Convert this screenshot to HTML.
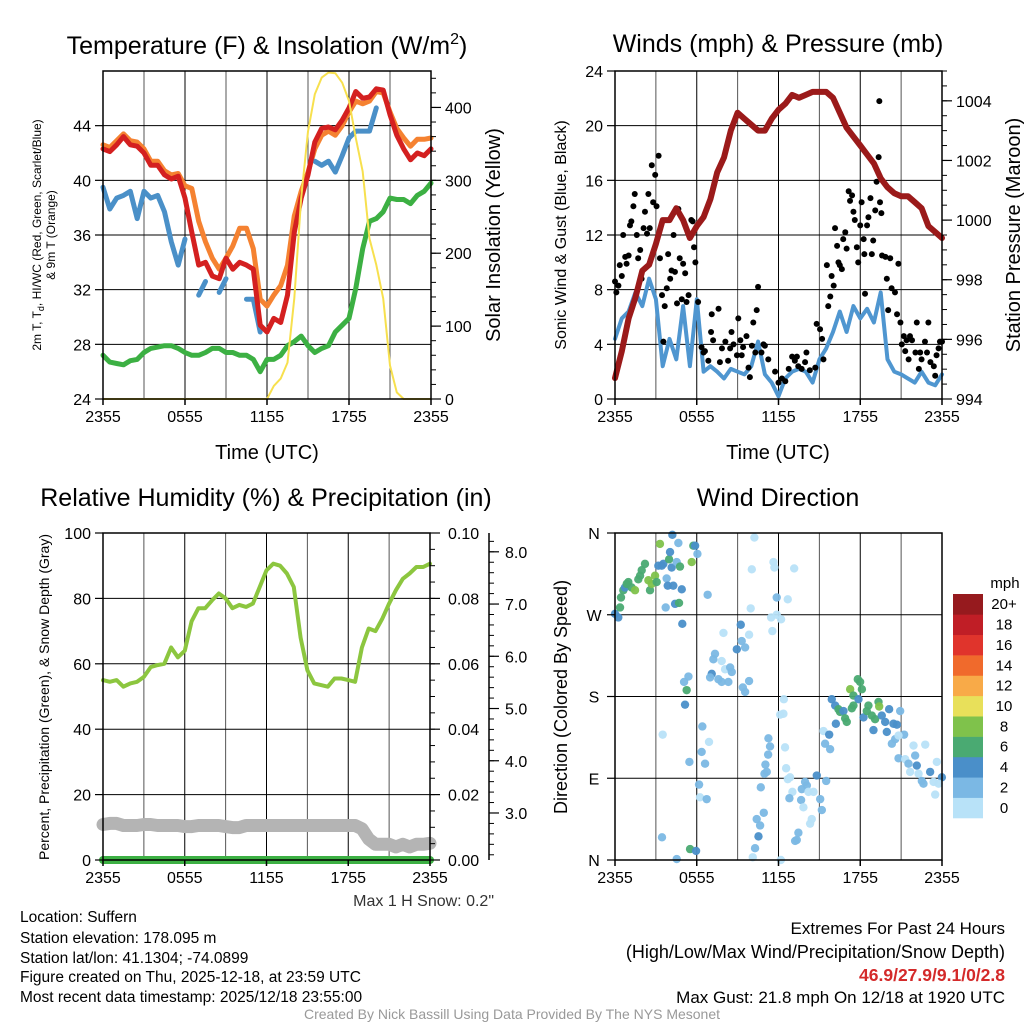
<!DOCTYPE html>
<html><head><meta charset="utf-8"><style>
html,body{margin:0;padding:0;background:#fff;}
svg{display:block;font-family:"Liberation Sans",Arial,sans-serif;}
</style></head><body>
<svg id="chart" width="1024" height="1024" viewBox="0 0 1024 1024" xmlns="http://www.w3.org/2000/svg">
<rect x="0" y="0" width="1024" height="1024" fill="#fff"/>
<g id="layer"></g>
<text x="267" y="54" font-size="25" text-anchor="middle">Temperature (F) &amp; Insolation (W/m<tspan dy="-10" font-size="16">2</tspan><tspan dy="10">)</tspan></text>
<text x="778" y="52" font-size="25" text-anchor="middle">Winds (mph) &amp; Pressure (mb)</text>
<text x="266" y="506" font-size="25" text-anchor="middle">Relative Humidity (%) &amp; Precipitation (in)</text>
<text x="778" y="506" font-size="25" text-anchor="middle">Wind Direction</text>
<text x="267" y="459" font-size="20" text-anchor="middle">Time (UTC)</text>
<text x="778" y="459" font-size="20" text-anchor="middle">Time (UTC)</text>
<text transform="translate(41,235) rotate(-90)" font-size="12" text-anchor="middle">2m T, T<tspan dy="3" font-size="9">d</tspan><tspan dy="-3">, HI/WC (Red, Green, Scarlet/Blue)</tspan></text>
<text transform="translate(55,235) rotate(-90)" font-size="12" text-anchor="middle">&amp; 9m T (Orange)</text>
<text transform="translate(500,235) rotate(-90)" font-size="20" text-anchor="middle">Solar Insolation (Yellow)</text>
<text transform="translate(566,235) rotate(-90)" font-size="16" text-anchor="middle">Sonic Wind &amp; Gust (Blue, Black)</text>
<text transform="translate(1020,235) rotate(-90)" font-size="20" text-anchor="middle">Station Pressure (Maroon)</text>
<text transform="translate(49,697) rotate(-90)" font-size="14" text-anchor="middle">Percent, Precipitation (Green), &amp; Snow Depth (Gray)</text>
<text transform="translate(567,697) rotate(-90)" font-size="18" text-anchor="middle">Direction (Colored By Speed)</text>
<text x="494" y="906" font-size="16" fill="#333" text-anchor="end">Max 1 H Snow: 0.2"</text>
<g font-size="15.5">
<text x="20" y="922">Location: Suffern</text>
<text x="20" y="943">Station elevation: 178.095 m</text>
<text x="20" y="963">Station lat/lon: 41.1304; -74.0899</text>
<text x="20" y="982">Figure created on Thu, 2025-12-18, at 23:59 UTC</text>
<text x="20" y="1002">Most recent data timestamp: 2025/12/18 23:55:00</text>
</g>
<g text-anchor="end">
<text x="1005" y="934" font-size="17">Extremes For Past 24 Hours</text>
<text x="1005" y="958" font-size="18">(High/Low/Max Wind/Precipitation/Snow Depth)</text>
<text x="1005" y="981" font-size="17.5" fill="#d42a2a" font-weight="bold">46.9/27.9/9.1/0/2.8</text>
<text x="1005" y="1003" font-size="17">Max Gust: 21.8 mph On 12/18 at 1920 UTC</text>
</g>
<text x="512" y="1019" font-size="14" fill="#999" text-anchor="middle">Created By Nick Bassill Using Data Provided By The NYS Mesonet</text>
</svg>
<script>
// ---- data (half-hourly, hours since 2355) ----
const xTickLabels = ["2355","0555","1155","1755","2355"];
const tempTicks = [24,28,32,36,40,44];
const solarTicks = [0,100,200,300,400];
const windTicks = [0,4,8,12,16,20,24];
const presTicks = [994,996,998,1000,1002,1004];
const rhTicks = [0,20,40,60,80,100];
const precipTicks = ["0.00","0.02","0.04","0.06","0.08","0.10"];
const snowTicks = [3,4,5,6,7,8];
const dirTicks = ["N","E","S","W","N"];
const speedBins = ["0","2","4","6","8","10","12","14","16","18","20+"];

const temp2m = [42.3,42.1,42.6,43.2,42.6,42.5,42.0,41.1,41.1,40.4,40.1,40.3,38.7,36.2,33.8,34.0,33.0,32.8,34.3,33.5,34.0,33.8,33.5,29.4,28.9,29.9,29.6,31.6,36.2,38.7,40.4,42.8,43.8,43.9,43.7,44.4,45.3,46.5,46.0,46.1,46.7,46.6,44.8,43.3,42.3,41.5,42.0,41.8,42.3];
const temp9m = [42.6,42.4,42.9,43.4,42.9,42.8,42.3,41.4,41.4,40.7,40.4,40.5,39.6,39.4,37.0,35.5,34.3,33.5,34.3,35.2,36.5,36.5,35.0,31.3,30.8,31.6,32.3,33.8,37.4,39.2,40.6,42.3,43.3,43.6,43.3,44.0,45.0,45.8,45.6,45.8,46.5,46.4,45.0,43.8,43.1,42.5,43.0,43.0,43.1];
const heatIndex = [39.5,37.9,38.7,38.9,39.2,37.2,39.2,38.7,38.9,37.7,35.5,33.8,35.7,null,31.6,32.6,null,31.8,32.8,null,null,31.3,31.3,28.9,null,null,null,28.4,null,null,null,41.4,41.1,41.4,40.6,41.8,43.1,43.6,43.6,43.6,45.3,null,null,null,null,null,null,null,null];
const dewPoint = [27.2,26.7,26.6,26.5,26.8,26.9,27.4,27.7,27.8,27.9,27.9,27.7,27.4,27.2,27.2,27.4,27.7,27.7,27.4,27.4,27.2,27.2,26.9,26.0,26.9,26.9,27.2,27.9,28.2,28.6,27.9,27.4,27.7,27.9,28.9,29.4,29.9,32.1,35.0,37.0,37.2,37.7,38.7,38.6,38.6,38.3,38.9,39.2,39.8];
const solar = [0,0,0,0,0,0,0,0,0,0,0,0,0,0,0,0,0,0,0,0,0,0,0,0,0,18,28,50,138,276,367,418,441,448,447,434,409,358,312,220,184,138,46,9,0,0,0,0,0];

const pressure = [994.7,995.6,996.7,997.4,998.3,998.5,999.2,1000.0,1000.0,1000.4,1000.0,999.4,999.8,1000.1,1000.7,1001.6,1002.1,1003.0,1003.6,1003.4,1003.2,1003.0,1003.0,1003.4,1003.7,1003.9,1004.2,1004.1,1004.2,1004.3,1004.3,1004.3,1004.1,1003.6,1003.1,1002.8,1002.5,1002.2,1001.9,1001.4,1001.1,1000.9,1000.8,1000.8,1000.6,1000.4,999.8,999.6,999.4];
const windSpeed = [4.4,5.9,6.4,7.8,6.8,8.8,7.3,2.4,4.4,2.9,6.8,2.4,7.3,2.0,2.4,2.0,1.5,2.2,2.0,1.8,2.4,4.2,1.8,1.2,0.2,1.5,2.0,2.2,2.0,1.2,2.9,3.7,4.9,6.4,4.9,6.8,5.9,6.6,5.6,7.8,2.9,2.0,1.8,1.5,1.2,2.0,1.2,1.0,1.8];
const gustHour = [0.0,0.1,0.25,0.35,0.5,0.6,0.75,0.85,1.0,1.1,1.2,1.35,1.45,1.6,1.7,1.85,1.95,2.1,2.2,2.35,2.45,2.55,2.7,2.8,2.95,3.05,3.2,3.3,3.45,3.55,3.65,3.8,3.9,4.05,4.15,4.3,4.4,4.55,4.65,4.75,4.9,5.0,5.15,5.25,5.4,5.6,5.7,5.8,5.9,6.1,6.35,6.5,6.6,6.85,7.05,7.1,7.2,7.6,7.7,7.85,8.1,8.3,8.45,8.55,8.7,8.95,9.05,9.2,9.3,9.4,9.65,9.8,9.9,10.05,10.15,10.3,10.4,10.5,10.75,10.9,11.0,11.25,11.75,12.0,12.25,12.5,12.75,13.0,13.2,13.35,13.45,13.7,13.95,14.05,14.3,14.7,14.8,15.05,15.2,15.3,15.55,15.65,15.8,15.9,16.05,16.15,16.3,16.4,16.5,16.65,16.75,16.9,17.0,17.15,17.25,17.4,17.5,17.6,17.75,17.85,18.0,18.1,18.25,18.3,18.35,18.5,18.6,18.75,18.85,18.95,19.1,19.2,19.35,19.4,19.45,19.55,19.6,19.85,19.95,20.05,20.2,20.3,20.55,20.7,20.8,20.95,21.05,21.2,21.3,21.4,21.55,21.65,21.8,22.05,22.15,22.3,22.4,22.5,22.75,22.9,23.0,23.15,23.4,23.5,23.6,23.75,23.85,24.0];
const gustMph = [8.6,7.8,8.3,9.8,9.0,12.0,10.4,9.9,10.5,12.7,13.0,14.1,15.0,12.0,10.3,10.9,8.8,12.5,13.7,12.1,15.0,12.5,17.1,14.4,16.4,14.1,17.8,10.3,7.6,4.2,6.8,8.1,10.6,8.8,9.4,12.0,9.3,7.0,13.9,10.3,7.3,9.9,9.2,7.1,7.6,13.1,13.0,11.1,10.0,7.1,3.8,3.4,3.5,2.8,4.9,6.2,4.3,6.6,2.7,3.7,4.2,2.8,3.7,4.9,4.0,3.2,5.9,4.3,3.2,3.8,4.6,2.3,1.6,3.9,5.6,3.4,6.5,8.2,3.4,4.0,3.9,2.9,2.0,1.2,1.5,1.3,2.2,3.1,2.8,3.1,2.4,2.2,2.7,3.4,2.1,2.3,5.5,5.1,4.4,2.9,9.8,6.8,7.5,9.0,8.3,12.5,11.2,10.0,9.8,9.5,11.7,12.2,11.0,15.2,14.5,14.9,13.7,13.1,11.1,10.0,12.7,14.4,11.7,10.6,7.7,12.7,13.3,14.7,10.6,11.6,13.8,15.9,17.7,21.8,14.4,13.6,10.5,10.4,8.8,6.5,10.3,8.1,7.8,6.2,9.9,5.6,4.0,4.6,3.5,4.3,2.9,4.6,4.3,3.4,5.6,2.2,3.4,2.9,4.2,3.4,5.6,2.7,2.4,1.7,3.2,3.7,4.2,4.2];

const rh = [55.0,54.5,55.0,53.0,54.0,54.5,56.0,59.0,59.6,60.0,65.0,62.0,64.0,73.0,77.0,77.0,79.4,81.5,80.0,77.0,78.0,77.4,78.4,83.5,88.6,90.6,90.0,87.6,83.5,68.0,58.0,54.0,53.5,53.0,55.5,55.5,55.0,54.5,65.0,70.8,70.0,73.8,78.4,82.5,86.0,87.6,89.6,89.6,90.6];
const snowDepth = [2.78,2.8,2.8,2.76,2.76,2.76,2.78,2.78,2.76,2.76,2.76,2.76,2.74,2.74,2.76,2.76,2.76,2.76,2.74,2.72,2.72,2.76,2.76,2.76,2.76,2.76,2.76,2.76,2.76,2.76,2.76,2.76,2.76,2.76,2.76,2.76,2.76,2.76,2.7,2.5,2.4,2.4,2.4,2.35,2.4,2.35,2.4,2.4,2.42];
const precip = [0,0,0,0,0,0,0,0,0,0,0,0,0,0,0,0,0,0,0,0,0,0,0,0,0,0,0,0,0,0,0,0,0,0,0,0,0,0,0,0,0,0,0,0,0,0,0,0,0];

const dirHour = [0.0,0.24,0.37,0.44,0.61,0.73,0.86,0.98,1.22,1.47,1.71,1.84,1.96,2.2,2.45,2.57,2.69,2.94,3.06,3.18,3.3,3.43,3.55,3.79,3.87,3.97,4.04,4.16,4.21,4.28,4.41,4.53,4.65,4.77,4.7,4.9,4.94,5.63,5.75,5.88,6.05,6.8,3.72,10.23,10.04,11.63,11.7,11.87,12.68,13.15,9.96,11.46,11.87,12.19,11.55,7.96,9.23,9.84,9.3,8.94,9.55,7.34,7.22,7.83,8.08,8.45,8.57,7.1,6.98,7.59,7.83,8.32,9.84,9.38,9.55,5.39,5.07,5.26,5.14,12.39,12.12,12.36,3.5,6.41,6.9,6.36,6.61,5.46,6.17,6.24,6.73,11.26,11.38,11.24,11.04,11.14,10.97,10.7,12.48,12.56,12.85,12.68,13.02,12.8,13.71,13.95,14.08,14.2,13.66,13.83,14.57,14.81,15.06,15.18,15.5,14.44,14.32,13.46,13.34,13.22,10.92,10.4,10.65,10.53,10.28,10.11,12.17,3.45,4.53,5.51,5.95,15.91,16.16,16.4,16.52,16.77,16.89,17.01,16.21,17.26,17.5,17.82,17.99,18.12,17.87,17.5,17.38,18.24,18.48,18.6,18.85,19.09,19.34,19.39,19.58,19.83,20.12,19.95,20.44,20.93,20.69,18.97,21.22,20.56,20.81,20.32,15.3,15.72,15.42,15.79,20.81,21.3,21.54,21.91,22.77,22.03,22.15,21.66,22.28,23.13,23.62,22.52,23.99,23.38,23.5,23.75,22.64];
const dirDeg = [271,267,278,289,297,300,304,306,300,297,309,313,319,326,308,297,304,313,306,324,348,324,326,310,302,331,339,322,358,302,282,328,349,323,283,298,260,328,346,346,337,292,278,355,320,328,322,289,287,321,277,267,270,265,252,250,259,248,241,232,234,227,221,219,210,212,207,205,201,199,196,196,197,190,185,202,196,187,171,177,160,161,138,147,130,119,106,108,83,69,67,134,125,116,105,97,95,80,124,101,91,89,75,68,78,86,82,75,66,58,75,93,67,55,87,45,40,30,22,21,52,45,38,26,13,3,0,25,1,12,10,177,170,166,163,164,156,152,150,188,181,199,196,188,177,170,167,157,164,170,159,155,174,169,159,152,166,141,150,164,149,143,138,133,137,128,142,138,128,122,112,111,106,126,127,115,104,97,95,97,108,87,91,86,72,84,84];
const dirSpeed = [5,5,7,7,7,5,7,7,7,9,7,7,7,7,9,7,9,9,7,5,9,5,5,3,5,7,5,5,5,5,5,3,3,7,7,5,5,9,7,5,3,3,3,1,1,1,1,3,1,1,1,1,1,1,1,1,5,1,3,5,3,3,3,1,1,3,3,5,3,3,3,3,3,3,3,3,3,7,5,1,1,1,1,3,1,3,3,3,3,1,3,3,3,3,3,3,3,3,1,1,1,1,1,3,3,3,3,1,3,1,1,5,3,3,3,1,1,3,3,3,3,3,3,5,3,1,1,3,3,7,5,5,5,7,7,5,7,7,5,9,7,7,7,7,5,7,7,5,7,7,7,7,7,9,5,5,5,5,5,3,5,5,3,3,1,3,1,5,3,3,3,1,3,1,1,3,5,1,1,5,1,3,5,1,1,1,3];

const speedColors = ["#b8e2f8","#7bb8e4","#4a8fc9","#4aaa72","#7fc24b","#e8e05a","#f8aa48","#f06a2c","#e0342c","#c01e26","#961a1e"];

// ---- helpers ----
const NS = "http://www.w3.org/2000/svg";
const layer = document.getElementById('layer');
function mk(tag, attrs, parent){
  const e = document.createElementNS(NS, tag);
  for (const k in attrs) e.setAttribute(k, attrs[k]);
  (parent||layer).appendChild(e);
  return e;
}
function scale(d0,d1,r0,r1){ return v => r0 + (v-d0)/(d1-d0)*(r1-r0); }
function pathFrom(ts, vs, sx, sy){
  let d = "", pen = false;
  for (let i=0;i<vs.length;i++){
    if (vs[i]===null){ pen=false; continue; }
    d += (pen?"L":"M") + sx(ts[i]).toFixed(1) + "," + sy(vs[i]).toFixed(1);
    pen = true;
  }
  return d;
}
const halfIdx = temp2m.map((_,i)=>i*0.5);

const panels = {
  temp:{x0:103,x1:431,y0:71,y1:399},
  wind:{x0:615,x1:942,y0:71,y1:399},
  rh:{x0:103,x1:430,y0:533,y1:860},
  dir:{x0:615,x1:942,y0:533,y1:860}
};

function grid(p, name, yvals, sy){
  const g = mk('g', {});
  
  
  const sx = scale(0,24,p.x0,p.x1);
  for (let h=3; h<24; h+=3){
    const l = mk('line',{x1:sx(h),x2:sx(h),y1:p.y0,y2:p.y1,stroke:(h%6===0?'#000':'#555'),'stroke-width':1}, g);
    
    
  }
  yvals.forEach(v=>{
    const l = mk('line',{x1:p.x0,x2:p.x1,y1:sy(v),y2:sy(v),stroke:'#000','stroke-width':1}, g);
    
    
  });
}
function frame(p, name){
  const r = mk('rect',{x:p.x0,y:p.y0,width:p.x1-p.x0,height:p.y1-p.y0,fill:'none',stroke:'#000','stroke-width':1.5});
  
  
  const sx = scale(0,24,p.x0,p.x1);
  const xt = [0,6,12,18,24];
  xt.forEach((h,i)=>{
    mk('line',{x1:sx(h),x2:sx(h),y1:p.y1,y2:p.y1+6,stroke:'#000','stroke-width':1.5});
    const t = mk('text',{x:sx(h),y:p.y1+23,'font-size':16,'text-anchor':'middle'});
    t.textContent = xTickLabels[i];
    
    
  });
}
function leftTicks(p, name, vals, labels, sy, lx){
  vals.forEach((v,i)=>{
    mk('line',{x1:p.x0-8,x2:p.x0,y1:sy(v),y2:sy(v),stroke:'#000','stroke-width':1.2});
    const t = mk('text',{x:lx,y:sy(v)+6,'font-size':16,'text-anchor':'end'});
    t.textContent = labels[i];
    
    
  });
}
function rightTicks(ax, name, vals, labels, sy, lx, minorVals){
  (minorVals||[]).forEach(v=>{
    mk('line',{x1:ax,x2:ax+5,y1:sy(v),y2:sy(v),stroke:'#000','stroke-width':1});
  });
  vals.forEach((v,i)=>{
    mk('line',{x1:ax,x2:ax+10,y1:sy(v),y2:sy(v),stroke:'#000','stroke-width':1.2});
    const t = mk('text',{x:lx,y:sy(v)+6,'font-size':16,'text-anchor':'start'});
    t.textContent = labels[i];
    
    
  });
}
function series(p, ts, vs, sy, color, w, name){
  const sx = scale(0,24,p.x0,p.x1);
  const e = mk('path',{d:pathFrom(ts,vs,sx,sy),fill:'none',stroke:color,'stroke-width':w,'stroke-linejoin':'round','stroke-linecap':'round'});
  
  
}

// ---- Panel 1: temperature ----
(function(){
  const p = panels.temp;
  const sy = scale(24,48,p.y1,p.y0);
  const sSol = scale(0,450,p.y1,p.y0);
  grid(p,'temperature',tempTicks.slice(1),sy);
  series(p, halfIdx, dewPoint, sy, '#3cb043', 5, 'dewpoint-line');
  series(p, halfIdx, temp9m, sy, '#f58231', 5, 'temp-9m-line');
  series(p, halfIdx, heatIndex, sy, '#4a90c8', 5, 'windchill-line');
  series(p, halfIdx, temp2m, sy, '#d42020', 5, 'temp-2m-line');
  series(p, halfIdx, solar, sSol, '#f7e04e', 2, 'insolation-line');
  frame(p,'temperature');
  leftTicks(p,'temperature',tempTicks,tempTicks.map(String),sy,p.x0-12);
  const minor=[]; for(let v=0; v<=450; v+=20) minor.push(v);
  rightTicks(p.x1,'insolation',solarTicks,solarTicks.map(String),sSol,p.x1+14,minor);
})();

// ---- Panel 2: wind ----
(function(){
  const p = panels.wind;
  const sy = scale(0,24,p.y1,p.y0);
  const sp = scale(994,1005,p.y1,p.y0);
  const sx = scale(0,24,p.x0,p.x1);
  grid(p,'wind',windTicks.slice(1,-1),sy);
  series(p, halfIdx, windSpeed, sy, '#4f96d0', 4, 'wind-speed-line');
  gustHour.forEach((h,i)=>{
    const c = mk('circle',{cx:sx(h),cy:sy(gustMph[i]),r:3,fill:'#000'});
    
    
  });
  series(p, halfIdx, pressure, sp, '#9b1a1a', 6, 'pressure-line');
  frame(p,'wind');
  leftTicks(p,'wind',windTicks,windTicks.map(String),sy,p.x0-12);
  const minor=[]; for(let v=994; v<=1005; v+=0.5) minor.push(v);
  rightTicks(p.x1,'pressure',presTicks,presTicks.map(String),sp,p.x1+14,minor);
})();

// ---- Panel 3: humidity ----
(function(){
  const p = panels.rh;
  const sy = scale(0,100,p.y1,p.y0);
  const sPr = scale(0,0.1,p.y1,p.y0);
  const sSn = scale(2.1,8.36,p.y1,p.y0);
  grid(p,'humidity',rhTicks.slice(1,-1),sy);
  series(p, halfIdx, snowDepth, sSn, '#b4b4b4', 13, 'snow-depth-line');
  series(p, halfIdx, rh, sy, '#8cc63f', 4, 'humidity-line');
  series(p, halfIdx, precip, sPr, '#3cb043', 8, 'precipitation-line');
  frame(p,'humidity');
  leftTicks(p,'humidity',rhTicks,rhTicks.map(String),sy,p.x0-12);
  const minor=[]; for(let v=0; v<=0.1; v+=0.005) minor.push(v);
  rightTicks(p.x1,'precipitation',precipTicks.map(Number),precipTicks,sPr,p.x1+18,minor);
  const snowAxisX = 489;
  mk('line',{x1:snowAxisX,x2:snowAxisX,y1:p.y0,y2:p.y1,stroke:'#000','stroke-width':1.5});
  const sminor=[]; for(let v=2.2; v<=8.36; v+=0.2) sminor.push(v);
  rightTicks(snowAxisX,'snow',snowTicks,snowTicks.map(v=>v.toFixed(1)),sSn,snowAxisX+16,sminor);
})();

// ---- Panel 4: wind direction ----
(function(){
  const p = panels.dir;
  const sy = scale(0,360,p.y1,p.y0);
  const sx = scale(0,24,p.x0,p.x1);
  grid(p,'direction',[90,180,270],sy);
  dirHour.forEach((h,i)=>{
    const bin = Math.min(10, Math.floor(dirSpeed[i]/2));
    const c = mk('circle',{cx:sx(h),cy:sy(dirDeg[i]),r:4.2,fill:speedColors[bin],'fill-opacity':0.95});
    
    
  });
  frame(p,'direction');
  [0,90,180,270,360].forEach((v,i)=>{
    mk('line',{x1:p.x0-8,x2:p.x0,y1:sy(v),y2:sy(v),stroke:'#000','stroke-width':1.2});
    const t = mk('text',{x:p.x0-21,y:sy(v)+6,'font-size':16,'text-anchor':'middle'});
    t.textContent = dirTicks[i];
    
    
  });
  const cb = mk('g',{});
  
  
  const top=594, bot=818, n=speedColors.length, h=(bot-top)/n;
  speedColors.forEach((c,i)=>{
    const y = bot-(i+1)*h;
    const r = mk('rect',{x:953,y:y,width:30,height:h+0.3,fill:c},cb);
    
    
    const t = mk('text',{x:1004,y:y+h/2+5,'font-size':15,'text-anchor':'middle'},cb);
    t.textContent = speedBins[i];
    
    
  });
  const u = mk('text',{x:1005,y:588,'font-size':15,'text-anchor':'middle'},cb);
  u.textContent = 'mph';
  
  
})();
</script>
</body></html>
